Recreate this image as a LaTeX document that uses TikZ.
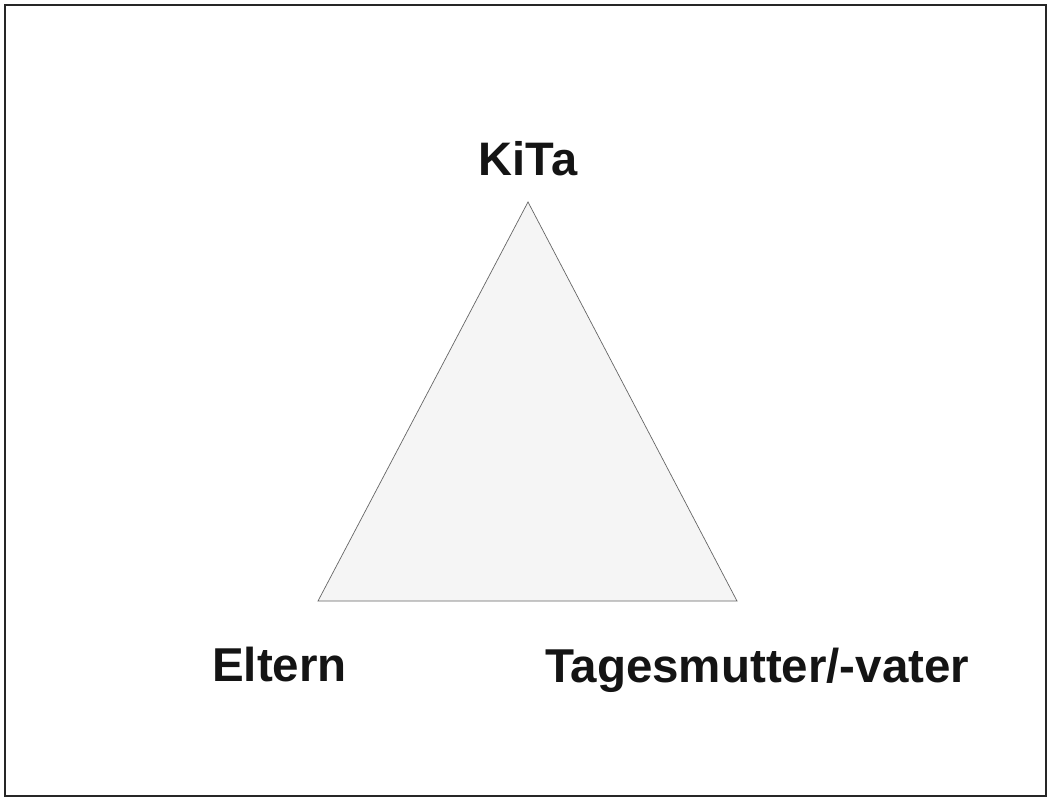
\documentclass[tikz,border=0pt]{standalone}
\usepackage{fontspec}
\setmainfont{Liberation Sans}
\begin{document}
\begin{tikzpicture}[x=1pt,y=-1pt,
  lbl/.style={font=\bfseries\fontsize{47.5}{52}\selectfont, inner sep=0pt, text=black!92},
  frame/.style={draw=black!85, line width=2pt},
  tri/.style={draw=black!60, line width=0.7pt, fill=black!4}]
\useasboundingbox (0,0) rectangle (1051,799);
\fill[white] (0,0) rectangle (1051,799);
\draw[frame] (5,5) rectangle (1046,796);
\coordinate (top) at (528,202);
\coordinate (bl) at (318,601);
\coordinate (br) at (737,601);
\draw[tri] (top) -- (bl) -- (br) -- cycle;
\node[lbl, anchor=base, font=\bfseries\fontsize{47}{52}\selectfont] (kita) at (528,176) {KiTa};
\node[lbl, anchor=base west] (eltern) at (212,681) {Eltern};
\node[lbl, anchor=base west] (tm) at (545,682) {Tagesmutter/-vater};
\end{tikzpicture}
\end{document}
